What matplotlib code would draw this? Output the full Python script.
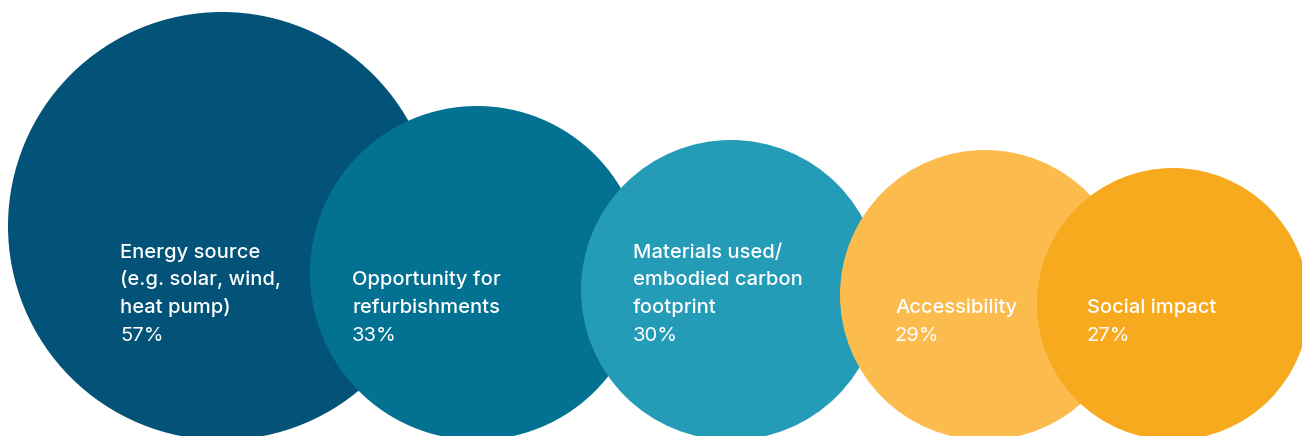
import matplotlib.pyplot as plt
from matplotlib.patches import Circle

# data
labels = [
    "Energy source\n(e.g. solar, wind,\nheat pump)",
    "Opportunity for\nrefurbishments",
    "Materials used/\nembodied carbon\nfootprint",
    "Accessibility",
    "Social impact",
]
values = [57, 33, 30, 29, 27]
colors = ["#025377", "#037192", "#259CB7", "#FCBB4D", "#F8AA1E"]

# layout (pixels)
W, H = 1302, 436
centers_x = [222, 477, 731, 985, 1173]
radii = [214, 167, 150, 145, 136]
bottom = 440
text_x = [120, 352, 633, 895, 1087]
pct_baseline = 341
line_pitch = 27.8

plt.rcParams["font.family"] = ["Inter", "DejaVu Sans"]

fig = plt.figure(figsize=(W / 100, H / 100), dpi=100)
ax = fig.add_axes([0, 0, 1, 1])
ax.set_xlim(0, W)
ax.set_ylim(H, 0)
ax.set_aspect("equal")
ax.axis("off")

for i, (lab, val, c) in enumerate(zip(labels, values, colors)):
    r = radii[i]
    ax.add_patch(Circle((centers_x[i], bottom - r), r, facecolor=c,
                        edgecolor="none", zorder=i + 1))
    lines = lab.split("\n")
    ax.text(text_x[i], pct_baseline, f"{val}%", color="white", fontsize=14.5,
            va="baseline", ha="left", zorder=20)
    for j, line in enumerate(reversed(lines)):
        ax.text(text_x[i], pct_baseline - line_pitch * (j + 1), line,
                color="white", fontsize=14.5, fontweight="medium",
                va="baseline", ha="left", zorder=20)

fig.savefig("out.png", dpi=100)
